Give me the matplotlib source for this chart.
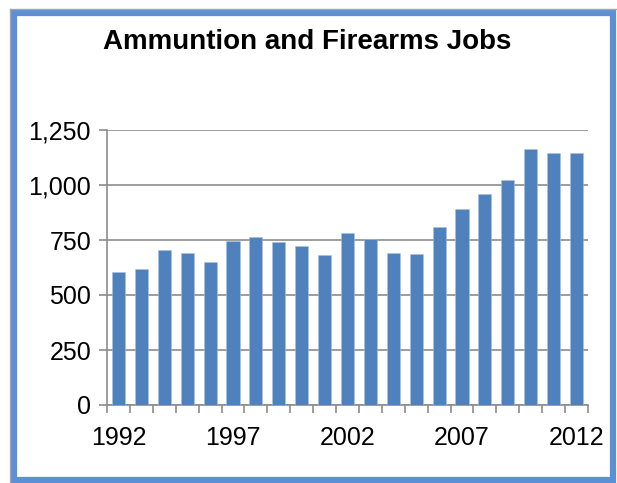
import matplotlib
matplotlib.use("Agg")
import matplotlib.pyplot as plt
from matplotlib.patches import Rectangle
from matplotlib.lines import Line2D

years = list(range(1992, 2013))
jobs = [606, 620, 705, 691, 648, 745, 764, 742, 723, 682,
        780, 755, 689, 686, 807, 891, 961, 1021, 1164, 1144, 1147]
yticks = [0, 250, 500, 750, 1000, 1250]
ytick_labels = ["0", "250", "500", "750", "1,000", "1,250"]
xlabel_years = [1992, 1997, 2002, 2007, 2012]
title = "Ammuntion and Firearms Jobs"

plt.rcParams['font.family'] = ['Liberation Sans', 'DejaVu Sans']

W, H = 617, 483
fig = plt.figure(figsize=(W / 100, H / 100), dpi=100)
fig.patch.set_facecolor('white')

# frame
fig.add_artist(Line2D([9.5 / W, 9.5 / W], [0, 1 - 9 / H], transform=fig.transFigure,
                      color='#a6a6a6', lw=1.0))
fig.add_artist(Line2D([9.5 / W, 1], [1 - 9 / H, 1 - 9 / H], transform=fig.transFigure,
                      color='#a6a6a6', lw=1.0))
fig.add_artist(Rectangle((14 / W, 3 / H), (613 - 14) / W, (470 - 3) / H,
                         transform=fig.transFigure, fill=False,
                         edgecolor='#5b8fd6', lw=4.5))

ax = fig.add_axes([107 / W, 1 - 405 / H, (588 - 107) / W, (405 - 130) / H])
x = list(range(len(years)))
ax.bar(x, jobs, width=0.57, color='#4f81bd', edgecolor='#a9c1e0', linewidth=0.4, zorder=3)

ax.set_xlim(-0.5, len(years) - 0.5)
ax.set_ylim(0, 1250)
ax.set_yticks(yticks)
ax.set_yticklabels(ytick_labels)
ax.yaxis.grid(True, color='#8c8c8c', lw=1.2, zorder=0)
ax.set_axisbelow(True)

pos = [years.index(y) for y in xlabel_years]
ax.set_xticks(pos)
ax.set_xticklabels([str(y) for y in xlabel_years])
ax.set_xticks([i - 0.5 for i in range(len(years) + 1)], minor=True)
ax.tick_params(axis='x', which='major', length=0, pad=15, labelsize=18)
ax.tick_params(axis='x', which='minor', length=5.5, width=1.2, color='#8c8c8c', direction='out')
ax.tick_params(axis='y', which='major', length=5.5, width=1.2, color='#8c8c8c', pad=6, labelsize=18)

for s in ['top', 'right']:
    ax.spines[s].set_visible(False)
for s in ['left', 'bottom']:
    ax.spines[s].set_color('#8c8c8c')
    ax.spines[s].set_linewidth(1.2)

fig.text(307 / W, 1 - 42 / H, title, ha='center', va='center',
         fontsize=20, fontweight='bold')

fig.savefig('out.png', dpi=100, facecolor='white')
